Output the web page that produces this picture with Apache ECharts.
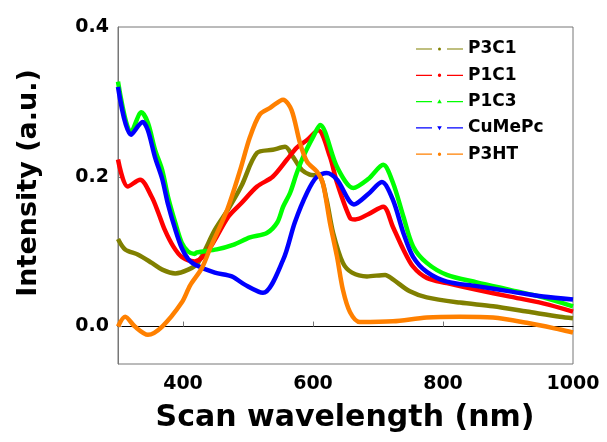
<!DOCTYPE html>
<html>
<head>
<meta charset="utf-8">
<script src="https://cdn.jsdelivr.net/npm/echarts@6/dist/echarts.min.js"></script>
<style>html,body{margin:0;padding:0;background:#fff}#c{width:607px;height:442px}</style>
</head>
<body>
<div id="c"></div>
<script>
var seriesNames = ['P3C1', 'P1C1', 'P1C3', 'CuMePc', 'P3HT'];
var xTicks = [400, 600, 800, 1000];
var yTicks = [0.0, 0.2, 0.4];

var p3c1X = [300, 311, 331, 352, 368, 388, 408, 423, 449, 469, 490, 514, 538, 557, 569, 583, 595, 611, 621, 631, 646, 660, 683, 711, 723, 749, 775, 826, 877, 929, 980, 1000];
var p3c1Y = [0.117, 0.103, 0.096, 0.085, 0.076, 0.071, 0.076, 0.085, 0.129, 0.156, 0.188, 0.232, 0.236, 0.240, 0.227, 0.209, 0.203, 0.200, 0.169, 0.125, 0.085, 0.072, 0.067, 0.069, 0.063, 0.047, 0.039, 0.032, 0.027, 0.020, 0.013, 0.011];

var p1c1X = [300, 315, 334, 352, 362, 372, 385, 398, 418, 429, 445, 470, 490, 514, 538, 560, 575, 591, 608, 626, 637, 657, 665, 685, 708, 723, 739, 754, 775, 806, 852, 903, 954, 1000];
var p1c1Y = [0.223, 0.187, 0.196, 0.173, 0.152, 0.129, 0.107, 0.093, 0.087, 0.092, 0.110, 0.147, 0.165, 0.187, 0.200, 0.223, 0.239, 0.249, 0.262, 0.227, 0.192, 0.145, 0.143, 0.150, 0.160, 0.133, 0.103, 0.080, 0.065, 0.058, 0.049, 0.040, 0.031, 0.020];

var p1c3X = [300, 320, 336, 346, 357, 368, 377, 388, 398, 408, 418, 421, 452, 477, 503, 529, 545, 554, 565, 575, 585, 600, 611, 637, 662, 685, 708, 723, 739, 754, 775, 806, 852, 903, 954, 1000];
var p1c3Y = [0.327, 0.259, 0.286, 0.272, 0.236, 0.209, 0.173, 0.139, 0.112, 0.100, 0.097, 0.099, 0.103, 0.109, 0.119, 0.125, 0.139, 0.160, 0.179, 0.205, 0.227, 0.253, 0.269, 0.213, 0.185, 0.197, 0.216, 0.192, 0.147, 0.107, 0.085, 0.069, 0.059, 0.049, 0.039, 0.027];

var cumepcX = [300, 320, 338, 346, 357, 368, 377, 388, 398, 408, 418, 449, 475, 495, 523, 554, 572, 591, 606, 621, 637, 663, 685, 706, 723, 739, 754, 775, 806, 852, 903, 954, 1000];
var cumepcY = [0.320, 0.256, 0.273, 0.262, 0.226, 0.197, 0.163, 0.130, 0.105, 0.090, 0.083, 0.072, 0.067, 0.056, 0.045, 0.089, 0.139, 0.179, 0.200, 0.205, 0.196, 0.163, 0.177, 0.193, 0.169, 0.125, 0.093, 0.073, 0.060, 0.054, 0.047, 0.040, 0.036];

var p3htX = [300, 311, 326, 346, 368, 398, 411, 429, 442, 468, 488, 503, 518, 534, 554, 567, 580, 591, 606, 615, 626, 637, 646, 657, 672, 723, 775, 826, 877, 929, 980, 1000];
var p3htY = [0.000, 0.013, 0.000, -0.011, 0.000, 0.032, 0.055, 0.078, 0.105, 0.156, 0.209, 0.253, 0.283, 0.292, 0.303, 0.289, 0.245, 0.220, 0.207, 0.192, 0.139, 0.093, 0.049, 0.019, 0.006, 0.007, 0.012, 0.013, 0.012, 0.005, -0.004, -0.008];

var colors = ['#808000', '#ff0000', '#00ff00', '#0000ff', '#ff8000'];
var xs = [p3c1X, p1c1X, p1c3X, cumepcX, p3htX];
var ys = [p3c1Y, p1c1Y, p1c3Y, cumepcY, p3htY];

function pairs(x, y) { var o = []; for (var i = 0; i < x.length; i++) o.push([x[i], y[i]]); return o; }

var pin = 'M0,0h0.01v0.01h-0.01z M47,7h-0.01v-0.01h0.01z ';
var lines = 'M0,2.9h16v1.2h-16z M31,2.9h16v1.2h-16z ';
var markers = [
  'M22,3.5a1.5,1.5 0 1,0 3,0a1.5,1.5 0 1,0 -3,0z',
  'M21.8,3.5a1.7,1.7 0 1,0 3.4,0a1.7,1.7 0 1,0 -3.4,0z',
  'M23.5,1.2l2.3,4h-4.6z',
  'M21.2,1.8h4.6l-2.3,4z',
  'M21.8,3.5a1.7,1.7 0 1,0 3.4,0a1.7,1.7 0 1,0 -3.4,0z'
];

var font = '"DejaVu Sans", sans-serif';
var series = [];
var legendData = [];
for (var k = 0; k < seriesNames.length; k++) {
  series.push({
    name: seriesNames[k], type: 'line', data: pairs(xs[k], ys[k]),
    smooth: 0.3, showSymbol: false, symbol: 'none',
    lineStyle: { color: colors[k], width: 4.5 }, itemStyle: { color: colors[k] },
    z: 2 + k
  });
  legendData.push({ name: seriesNames[k], icon: 'path://' + pin + lines + markers[k], itemStyle: { color: colors[k] } });
}

var chart = echarts.init(document.getElementById('c'), null, { renderer: 'canvas' });
chart.setOption({
  animation: false,
  grid: { left: 118, right: 34, top: 27, bottom: 78, show: true, borderColor: '#777', borderWidth: 1, backgroundColor: 'transparent' },
  xAxis: {
    type: 'value', min: 300, max: 1000, interval: 100,
    axisLine: { show: true, lineStyle: { color: '#000', width: 1.2 } },
    axisTick: { show: true, inside: true, length: 5, customValues: [400, 600, 800], lineStyle: { color: '#777' } },
    axisLabel: { customValues: xTicks, color: '#000', fontSize: 19, fontWeight: 'bold', fontFamily: font, margin: 11,
      formatter: function (v) { return String(Math.round(v)); } },
    splitLine: { show: false }
  },
  yAxis: {
    type: 'value', min: -0.05, max: 0.4, interval: 0.05,
    axisLine: { show: true, lineStyle: { color: '#777', width: 1 } },
    axisTick: { show: true, inside: true, length: 4, customValues: [0.0, 0.2], lineStyle: { color: '#777' } },
    axisLabel: { customValues: yTicks, color: '#000', fontSize: 19, fontWeight: 'bold', fontFamily: font, margin: 9,
      formatter: function (v) { return v.toFixed(1); } },
    splitLine: { show: false }
  },
  legend: {
    data: legendData, orient: 'vertical', left: 411, top: 35,
    itemWidth: 47, itemHeight: 7, itemGap: 8.3,
    textStyle: { fontSize: 17, fontWeight: 'bold', fontFamily: font, color: '#000', lineHeight: 18 },
    selectedMode: false
  },
  graphic: [
    { type: 'text', x: 345, y: 418, style: { text: 'Scan wavelength (nm)', align: 'center', verticalAlign: 'middle', font: 'bold 30px ' + font, fill: '#000' } },
    { type: 'text', x: 29, y: 183, rotation: Math.PI / 2, style: { text: 'Intensity (a.u.)', align: 'center', verticalAlign: 'middle', font: 'bold 27px ' + font, fill: '#000' } }
  ],
  series: series
});
</script>
</body>
</html>
